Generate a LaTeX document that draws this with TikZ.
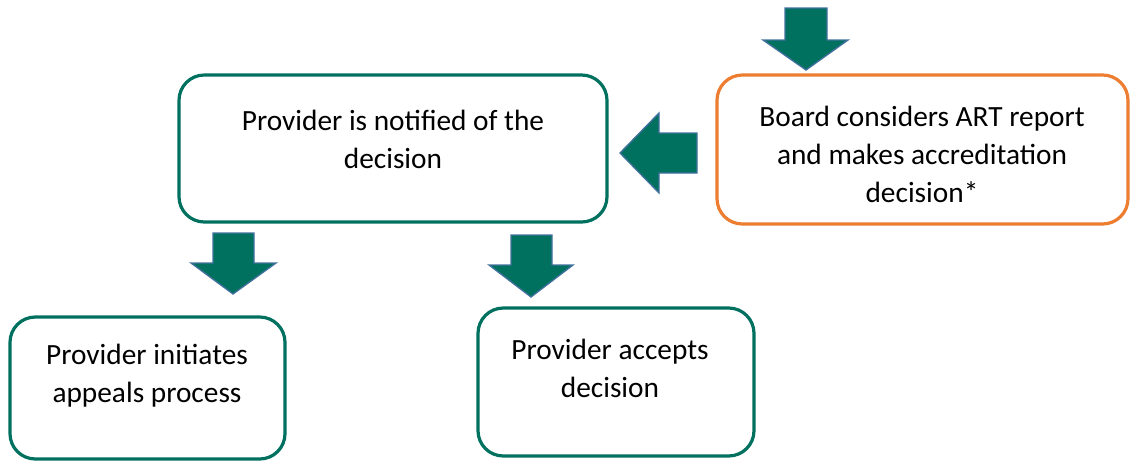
\documentclass[tikz,border=0pt]{standalone}
\usepackage{fontspec}
\setmainfont{Carlito}
\definecolor{teal}{HTML}{00705F}
\definecolor{arrowline}{HTML}{41719C}
\definecolor{boardorange}{HTML}{ED7D31}
\tikzset{
  stepbox/.style={draw=teal, line width=2.4pt, rounded corners=19pt, fill=white},
  boardbox/.style={stepbox, draw=boardorange},
  steptext/.style={align=center, font=\fontsize{22}{28.5}\selectfont},
  blockarrow/.style={fill=teal, draw=arrowline, line width=1pt, line join=miter}
}
\begin{document}
\begin{tikzpicture}[x=0.75pt,y=-0.75pt]
  \useasboundingbox (0,0) rectangle (1134,461);
  % boxes
  \draw[stepbox] (179,75) rectangle (607,222);
  \draw[boardbox] (717,75) rectangle (1128,224);
  \draw[stepbox] (10,317) rectangle (285,459);
  \draw[stepbox] (478,308) rectangle (754,456);
  % texts
  \node[steptext] (notified) at (393,139) {Provider is notified of the\\decision};
  \node[steptext] (board) at (922,154) {Board considers ART report\\and makes accreditation\\decision*};
  \node[steptext] (appeal) at (147,376) {Provider initiates\\appeals process};
  \node[steptext] (accept) at (610,368) {Provider accepts\\decision};
  % block arrows
  \draw[blockarrow] (785,8)--(827,8)--(827,40)--(848,40)--(806,70)--(763,40)--(785,40)--cycle;
  \draw[blockarrow] (697,133)--(697,173)--(659,173)--(659,193)--(620,153)--(659,113)--(659,133)--cycle;
  \draw[blockarrow] (213,233)--(254,233)--(254,263)--(276,263)--(233,294)--(191,263)--(213,263)--cycle;
  \draw[blockarrow] (511,235)--(552,235)--(552,265)--(573,265)--(531,297)--(489,265)--(511,265)--cycle;
\end{tikzpicture}
\end{document}
